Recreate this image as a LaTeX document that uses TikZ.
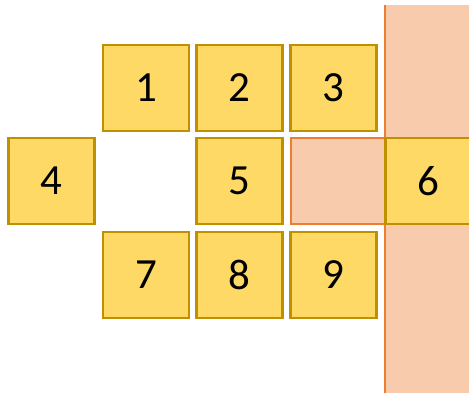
\documentclass[tikz,border=0pt]{standalone}
\usepackage{fontspec}
\setmainfont{Carlito}
\definecolor{cellyellow}{RGB}{255, 217, 102}
\definecolor{cellgold}{RGB}{191, 144, 0}
\definecolor{zonepink}{RGB}{248, 203, 173}
\definecolor{zoneorange}{RGB}{237, 125, 49}
\usetikzlibrary{positioning}

\begin{document}
\begin{tikzpicture}[
  x=1pt, y=1pt,
  cell/.style={draw=cellgold, fill=cellyellow, line width=2.2pt, minimum size=86pt, inner sep=0pt, font=\fontsize{43}{50}\selectfont},
  zone/.style={draw=zoneorange, fill=zonepink, line width=1.4pt, inner sep=0pt}
]
  \useasboundingbox (0,0) rectangle (469,393);
  \clip (0,0) rectangle (469,393);
  % pink strip on the right
  \fill[zonepink] (385,-5) rectangle (480,388);
  \draw[zoneorange, line width=1.4pt] (385,-5) -- (385,388);
  % top row
  \node[cell] (c1) at (146,305) {1};
  \node[cell] (c2) at (239.5,305) {2};
  \node[cell] (c3) at (333.5,305) {3};
  % middle row
  \node[cell] (c4) at (51.5,212) {4};
  \node[cell] (c5) at (239.5,212) {5};
  \node[zone, minimum width=94pt, minimum height=86pt] (gap) at (338,212) {};
  \node[cell] (c6) at (428.5,212) {6};
  % bottom row
  \node[cell] (c7) at (146,118) {7};
  \node[cell] (c8) at (239.5,118) {8};
  \node[cell] (c9) at (333.5,118) {9};
\end{tikzpicture}
\end{document}
